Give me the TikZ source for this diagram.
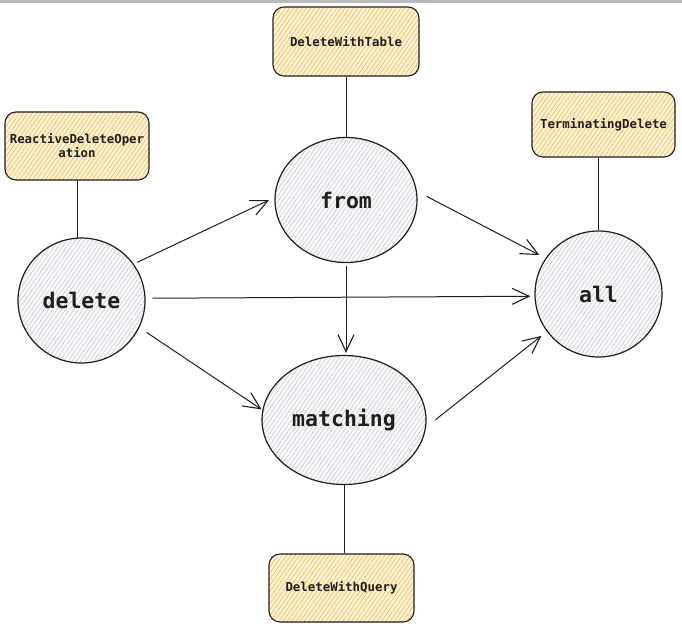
\documentclass[tikz,border=0pt]{standalone}
\usepackage{fontspec}
\setmonofont{DejaVu Sans Mono}
\usetikzlibrary{shapes.geometric,arrows.meta,patterns.meta}
\definecolor{ink}{HTML}{1E1E1E}
\definecolor{boxfill}{HTML}{FFF4DA}
\definecolor{boxhatch}{HTML}{F4BF55}
\definecolor{nodefill}{HTML}{F8F9FA}
\definecolor{nodehatch}{HTML}{C9CCD0}
\tikzset{
  opnode/.style={ellipse, draw=ink, line width=1.2pt, inner sep=0pt,
    preaction={fill=nodefill},
    pattern={Lines[angle=55,distance=3.5pt,line width=0.6pt]}, pattern color=nodehatch,
    font=\ttfamily\bfseries\fontsize{21.5}{25}\selectfont, text=ink},
  typebox/.style={rectangle, rounded corners=11pt, draw=ink, line width=1.1pt, inner sep=0pt,
    preaction={fill=boxfill},
    pattern={Lines[angle=55,distance=3.5pt,line width=0.7pt]}, pattern color=boxhatch,
    align=center, font=\ttfamily\bfseries\fontsize{12.4}{14}\selectfont, text=ink},
  link/.style={draw=ink, line width=1pt},
  flow/.style={draw=ink, line width=1pt, -{Straight Barb[length=17pt,width=16pt,line width=1.1pt]}},
}
\begin{document}
\begin{tikzpicture}[x=1pt,y=-1pt]
\useasboundingbox (0,0) rectangle (682,629);
\fill[gray!55] (0,0) rectangle (682,2.5);
% operation nodes
\node[opnode, minimum width=127pt, minimum height=125pt] (delete) at (81.5,300.5) {delete};
\node[opnode, minimum width=142pt, minimum height=125pt] (from) at (346,200) {from};
\node[opnode, minimum width=164pt, minimum height=129pt] (matching) at (344,420) {matching};
\node[opnode, minimum width=127pt, minimum height=126pt] (all) at (598.5,294) {all};
% type boxes
\node[typebox, minimum width=144pt, minimum height=68pt] (rdo) at (77,146) {ReactiveDeleteOper\\ation};
\node[typebox, minimum width=146pt, minimum height=69pt] (dwt) at (346,41.5) {DeleteWithTable};
\node[typebox, minimum width=143pt, minimum height=65pt] (td) at (603.5,124.5) {TerminatingDelete};
\node[typebox, minimum width=145pt, minimum height=68pt] (dwq) at (341.5,588) {DeleteWithQuery};
% links
\draw[link] (rdo.south) -- (delete.north -| rdo.south);
\draw[link] (dwt.south -| from.north) -- (from.north);
\draw[link] (td.south -| all.north) -- (all.north);
\draw[link] (matching.south) -- (dwq.north -| matching.south);
% flows
\draw[flow, shorten <=4pt, shorten >=6pt] (delete.35) -- (from.178);
\draw[flow, shorten <=7pt, shorten >=4pt] (delete.2) -- (all.182);
\draw[flow, shorten <=9pt, shorten >=1pt] (delete.-25) -- (matching.173);
\draw[flow, shorten <=11pt, shorten >=7pt] (from.7) -- (all.146);
\draw[flow, shorten <=3pt, shorten >=2pt] (from.south) -- (matching.north -| from.south);
\draw[flow, shorten <=12pt, shorten >=7pt] (matching.-5) -- (all.216);
\end{tikzpicture}
\end{document}
